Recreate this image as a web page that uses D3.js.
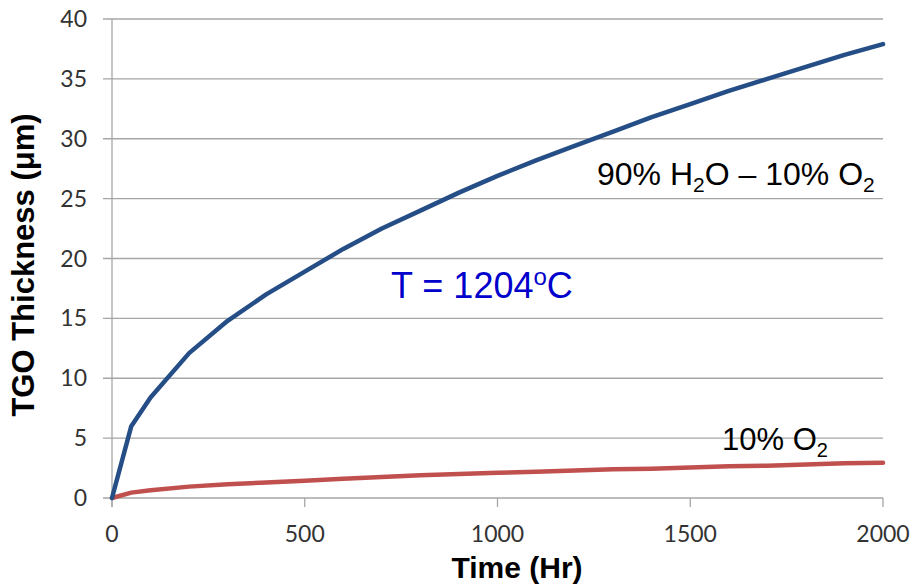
<!DOCTYPE html>
<html>
<head>
<meta charset="utf-8">
<script src="https://cdn.jsdelivr.net/npm/d3@7"></script>
<style>
  body { margin: 0; background: #fff; }
  svg { display: block; }
</style>
</head>
<body>
<svg width="913" height="587"></svg>
<script>
// time in hours
const hours = [0, 50, 100, 200, 300, 400, 500, 600, 700, 800, 900, 1000, 1100, 1200, 1300, 1400, 1500, 1600, 1700, 1800, 1900, 2000];
// 90% H2O - 10% O2
const steamThk = [0, 6.0, 8.4, 12.1, 14.8, 17.0, 18.9, 20.8, 22.5, 24.0, 25.5, 26.9, 28.2, 29.4, 30.6, 31.8, 32.9, 34.0, 35.0, 36.0, 37.0, 37.9];
// 10% O2
const dryThk = [0, 0.45, 0.65, 0.95, 1.15, 1.3, 1.45, 1.6, 1.75, 1.9, 2.0, 2.1, 2.2, 2.3, 2.4, 2.45, 2.55, 2.65, 2.7, 2.8, 2.9, 2.95];
const xTicks = [0, 500, 1000, 1500, 2000];
const yTicks = [0, 5, 10, 15, 20, 25, 30, 35, 40];

const svg = d3.select("svg");
const x = d3.scaleLinear().domain([0, 2000]).range([112, 883]);
const y = d3.scaleLinear().domain([0, 40]).range([498, 19]);
const gridCol = "#a6a6a6";
const tickFont = "Lato, 'Open Sans', sans-serif";

// horizontal gridlines (extend left as tick marks)
svg.append("g")
  .selectAll("line")
  .data(yTicks)
  .enter()
  .append("line")
  .attr("x1", 103).attr("x2", x(2000))
  .attr("y1", d => y(d)).attr("y2", d => y(d))
  .attr("stroke", gridCol).attr("stroke-width", 1.3);

// y axis line
svg.append("line")
  .attr("x1", x(0)).attr("x2", x(0))
  .attr("y1", y(40)).attr("y2", y(0) + 9)
  .attr("stroke", gridCol).attr("stroke-width", 1.3);

// x tick marks
svg.append("g")
  .selectAll("line")
  .data(xTicks)
  .enter()
  .append("line")
  .attr("x1", d => x(d)).attr("x2", d => x(d))
  .attr("y1", y(0)).attr("y2", y(0) + 9)
  .attr("stroke", gridCol).attr("stroke-width", 1.3);

// y tick labels
svg.append("g")
  .selectAll("text")
  .data(yTicks)
  .enter()
  .append("text")
  .attr("x", 87)
  .attr("y", d => y(d) + 8)
  .attr("text-anchor", "end")
  .style("font-family", tickFont)
  .style("font-size", "23px")
  .attr("fill", "#333")
  .text(d => d);

// x tick labels
svg.append("g")
  .selectAll("text")
  .data(xTicks)
  .enter()
  .append("text")
  .attr("x", d => x(d))
  .attr("y", 542)
  .attr("text-anchor", "middle")
  .style("font-family", tickFont)
  .style("font-size", "23px")
  .attr("fill", "#333")
  .text(d => d);

const line = d3.line()
  .x(d => x(d[0]))
  .y(d => y(d[1]));

svg.append("path")
  .datum(d3.zip(hours, dryThk))
  .attr("d", line)
  .attr("fill", "none")
  .attr("stroke", "#c0504d")
  .attr("stroke-width", 4.5)
  .attr("stroke-linejoin", "round")
  .attr("stroke-linecap", "round");

svg.append("path")
  .datum(d3.zip(hours, steamThk))
  .attr("d", line)
  .attr("fill", "none")
  .attr("stroke", "#254e86")
  .attr("stroke-width", 4.5)
  .attr("stroke-linejoin", "round")
  .attr("stroke-linecap", "round");

// axis titles
svg.append("text")
  .attr("x", 517).attr("y", 578)
  .attr("text-anchor", "middle")
  .style("font-family", "'Liberation Sans', Arial, sans-serif")
  .style("font-weight", "bold")
  .style("font-size", "30px")
  .text("Time (Hr)");

svg.append("text")
  .attr("transform", "translate(34,265) rotate(-90)")
  .attr("text-anchor", "middle")
  .style("font-family", "'Liberation Sans', Arial, sans-serif")
  .style("font-weight", "bold")
  .style("font-size", "31px")
  .text("TGO Thickness (μm)");

// annotations
const annFont = "'Liberation Sans', Arial, sans-serif";
function subLabel(xp, yp, size, parts, color) {
  const t = svg.append("text")
    .attr("x", xp).attr("y", yp)
    .style("font-family", annFont)
    .style("font-size", size + "px")
    .attr("fill", color);
  const small = Math.round(size * 0.66);
  parts.forEach(p => {
    const s = t.append("tspan").text(p.t);
    if (p.sub) s.attr("dy", size * 0.23).style("font-size", small + "px");
    if (p.back) s.attr("dy", -size * 0.23);
    if (p.sup) s.attr("dy", -size * 0.36).style("font-size", small + "px");
    if (p.down) s.attr("dy", size * 0.36);
  });
  return t;
}

subLabel(597, 185, 32, [
  {t: "90% H"}, {t: "2", sub: true}, {t: "O – 10% O", back: true}, {t: "2", sub: true}
], "#000");

subLabel(722, 450, 31, [
  {t: "10% O"}, {t: "2", sub: true}
], "#000");

subLabel(391, 298, 36, [
  {t: "T = 1204"}, {t: "o", sup: true}, {t: "C", down: true}
], "#0000cc");
</script>
</body>
</html>
